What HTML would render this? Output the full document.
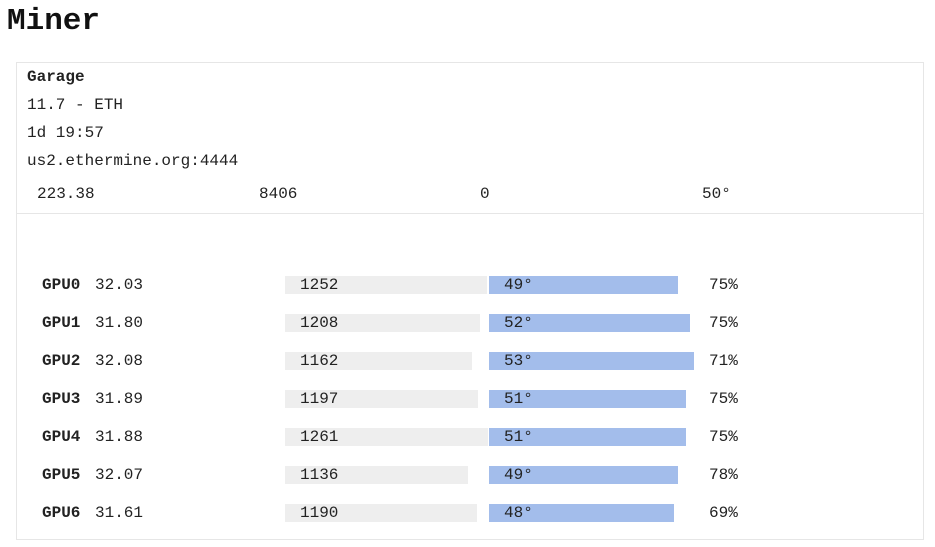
<!DOCTYPE html>
<html><head><meta charset="utf-8"><style>
body{margin:0;width:935px;height:547px;background:#fff;font-family:"Liberation Mono",monospace;color:#222;position:relative;overflow:hidden}
h1{position:absolute;left:7px;top:4px;margin:0;font-size:31px;font-weight:bold;color:#111}
.card{position:absolute;left:16px;top:62px;width:908px;height:478px;border:1px solid #e6e6e6;box-sizing:border-box}
.t{position:absolute;font-size:16px;white-space:nowrap}
.div{position:absolute;left:0;right:0;top:150px;border-top:1px solid #e6e6e6}
.bar{position:absolute;height:18px}
</style></head><body>
<h1>Miner</h1>
<div class="card">
<div class="t" style="left:10px;top:5px;font-weight:bold">Garage</div>
<div class="t" style="left:10px;top:33px">11.7 - ETH</div>
<div class="t" style="left:10px;top:61px">1d 19:57</div>
<div class="t" style="left:10px;top:89px">us2.ethermine.org:4444</div>
<div class="t" style="left:20px;top:122px">223.38</div>
<div class="t" style="left:242px;top:122px">8406</div>
<div class="t" style="left:463px;top:122px">0</div>
<div class="t" style="left:685px;top:122px">50°</div>
<div class="div"></div>
<div id="rows"></div>
</div>
<script>
const gpus=["GPU0","GPU1","GPU2","GPU3","GPU4","GPU5","GPU6"];
const hashrates=["32.03","31.80","32.08","31.89","31.88","32.07","31.61"];
const power=[1252,1208,1162,1197,1261,1136,1190];
const temps=[49,52,53,51,51,49,48];
const fans=[75,75,71,75,75,78,69];
const rows=document.getElementById('rows');
const pScale=v=>v*0.1613, tScale=v=>v*3.86;
function mk(cls,style,txt){const d=document.createElement('div');d.className=cls;d.style.cssText=style;if(txt!=null)d.textContent=txt;rows.appendChild(d);return d;}
gpus.forEach((g,i)=>{
 const cy=223+i*38;
 let e;
 e=mk('t',`left:25px;top:${cy-10}px;font-weight:bold`,g);
 
 
 e=mk('t',`left:78px;top:${cy-10}px`,hashrates[i]);
 
 
 e=mk('bar',`left:268px;top:${cy-10}px;width:${pScale(power[i])}px;background:#eeeeee`);
 
 
 e=mk('t',`left:283px;top:${cy-10}px`,String(power[i]));
 
 
 e=mk('bar',`left:472px;top:${cy-10}px;width:${tScale(temps[i])}px;background:#a3bdeb`);
 
 
 e=mk('t',`left:487px;top:${cy-10}px`,temps[i]+'°');
 
 
 e=mk('t',`left:692px;top:${cy-10}px`,fans[i]+'%');
 
 
});
</script>
</body></html>
